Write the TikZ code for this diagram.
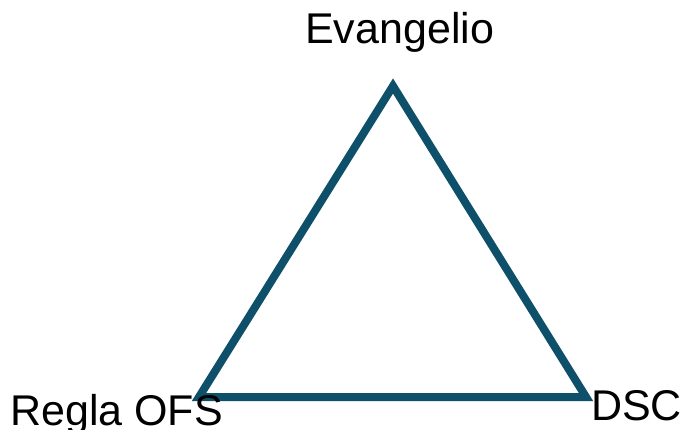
\documentclass[tikz,border=0pt]{standalone}
\usepackage{fontspec}
\setmainfont{Liberation Sans}
\definecolor{tri}{RGB}{14,80,106}
\begin{document}
\begin{tikzpicture}[x=1pt,y=-1pt,
  lbl/.style={inner sep=0pt,anchor=base west,font=\fontsize{43}{50}\selectfont},
  edge/.style={draw=tri,line width=8pt,line join=miter}]
\useasboundingbox (0,0) rectangle (684,430);
\coordinate (A) at (393,86);
\coordinate (B) at (199,397);
\coordinate (C) at (586,397);
\draw[edge] (A) -- (B) -- (C) -- cycle;
\node[lbl] (ev) at (305,44) {Evangelio};
\node[lbl] (ofs) at (10,425) {Regla OFS};
\node[lbl] (dsc) at (591,420) {DSC};
\end{tikzpicture}
\end{document}
